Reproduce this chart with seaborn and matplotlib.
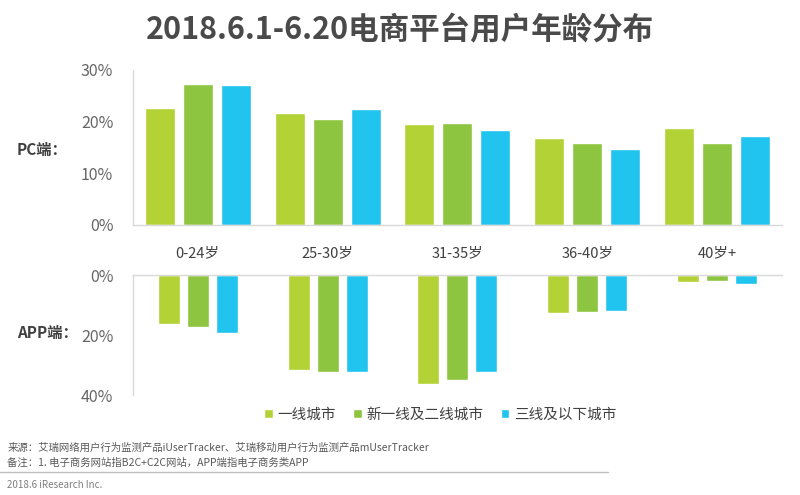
import pandas as pd
import seaborn as sns
import matplotlib
matplotlib.use("Agg")
import matplotlib.pyplot as plt
from matplotlib.ticker import FuncFormatter

# datos (%)
grupos = ["0-24岁", "25-30岁", "31-35岁", "36-40岁", "40岁+"]
ciudades = ["一线城市", "新一线及二线城市", "三线及以下城市"]
pc_t1 = [22.6, 21.7, 19.5, 16.8, 18.8]
pc_t2 = [27.3, 20.6, 19.7, 15.9, 15.9]
pc_t3 = [27.0, 22.4, 18.3, 14.8, 17.2]
app_t1 = [16.3, 31.7, 36.3, 12.6, 2.3]
app_t2 = [17.4, 32.2, 35.1, 12.2, 2.0]
app_t3 = [19.4, 32.4, 32.2, 11.9, 2.9]
colores = ["#B2D235", "#8DC540", "#21C4EE"]

def armar(series):
    filas = []
    for ciudad, vals in zip(ciudades, series):
        for g, v in zip(grupos, vals):
            filas.append({"grupo": g, "ciudad": ciudad, "valor": v})
    return pd.DataFrame(filas)

df_pc = armar([pc_t1, pc_t2, pc_t3])
df_app = armar([app_t1, app_t2, app_t3])

sns.set_style("white")
plt.rcParams["font.family"] = ["Noto Sans CJK SC", "DejaVu Sans"]

fig = plt.figure(figsize=(8, 4.95), dpi=100)
ax1 = fig.add_axes([0.166, 0.5455, 0.8115, 0.3131])
ax2 = fig.add_axes([0.166, 0.202, 0.8115, 0.2424])

sns.barplot(data=df_pc, x="grupo", y="valor", hue="ciudad", palette=colores,
            width=0.877, gap=0.21, ax=ax1, saturation=1, legend=False)
sns.barplot(data=df_app, x="grupo", y="valor", hue="ciudad", palette=colores,
            width=0.67, gap=0.24, ax=ax2, saturation=1)

pct = FuncFormatter(lambda v, p: f"{v:.0f}%")
gris = "#666666"

ax1.set_ylim(0, 30)
ax1.set_yticks([0, 10, 20, 30])
ax1.yaxis.set_major_formatter(pct)
ax1.set_xlim(-0.5, 4.5)
ax1.tick_params(axis="y", labelsize=11.5, colors=gris, length=0, pad=14)
ax1.tick_params(axis="x", labelsize=10.5, colors="#404040", length=0, pad=15)
ax1.set_xlabel("")
ax1.set_ylabel("")

ax2.set_ylim(40, 0)
ax2.set_yticks([0, 20, 40])
ax2.yaxis.set_major_formatter(pct)
ax2.set_xlim(-0.5, 4.5)
ax2.set_xticks([])
ax2.tick_params(axis="y", labelsize=11.5, colors=gris, length=0, pad=14)
ax2.set_xlabel("")
ax2.set_ylabel("")

for ax in (ax1, ax2):
    for s in ax.spines.values():
        s.set_color("#D9D9D9")
        s.set_linewidth(1)
ax1.spines["top"].set_visible(False)
ax1.spines["right"].set_visible(False)
ax2.spines["bottom"].set_visible(False)
ax2.spines["right"].set_visible(False)

h, l = ax2.get_legend_handles_labels()
ax2.legend_.remove()
fig.legend(h, l, loc="center", bbox_to_anchor=(0.55, 0.162), ncol=3, frameon=False,
           fontsize=10.5, handlelength=0.6, handleheight=0.6, handletextpad=0.3,
           columnspacing=1.2, labelcolor="#404040")

fig.text(0.5, 0.938, "2018.6.1-6.20电商平台用户年龄分布", ha="center", va="center",
         fontsize=22, fontweight="bold", color="#4A4A4A")
fig.text(0.021, 0.697, "PC端：", ha="left", va="center", fontsize=11,
         fontweight="bold", color="#404040")
fig.text(0.021, 0.327, "APP端：", ha="left", va="center", fontsize=11,
         fontweight="bold", color="#404040")

fig.text(0.009, 0.095, "来源：艾瑞网络用户行为监测产品iUserTracker、艾瑞移动用户行为监测产品mUserTracker",
         ha="left", va="center", fontsize=7.5, color="#595959")
fig.text(0.009, 0.065, "备注：1. 电子商务网站指B2C+C2C网站，APP端指电子商务类APP",
         ha="left", va="center", fontsize=7.5, color="#595959")
fig.add_artist(plt.Line2D([0.0, 0.76], [0.046, 0.046], color="#BFBFBF", linewidth=1))
fig.text(0.009, 0.02, "2018.6 iResearch Inc.", ha="left", va="center",
         fontsize=7, color="#7F7F7F")

fig.savefig("out.png", dpi=100)
plt.close(fig)
